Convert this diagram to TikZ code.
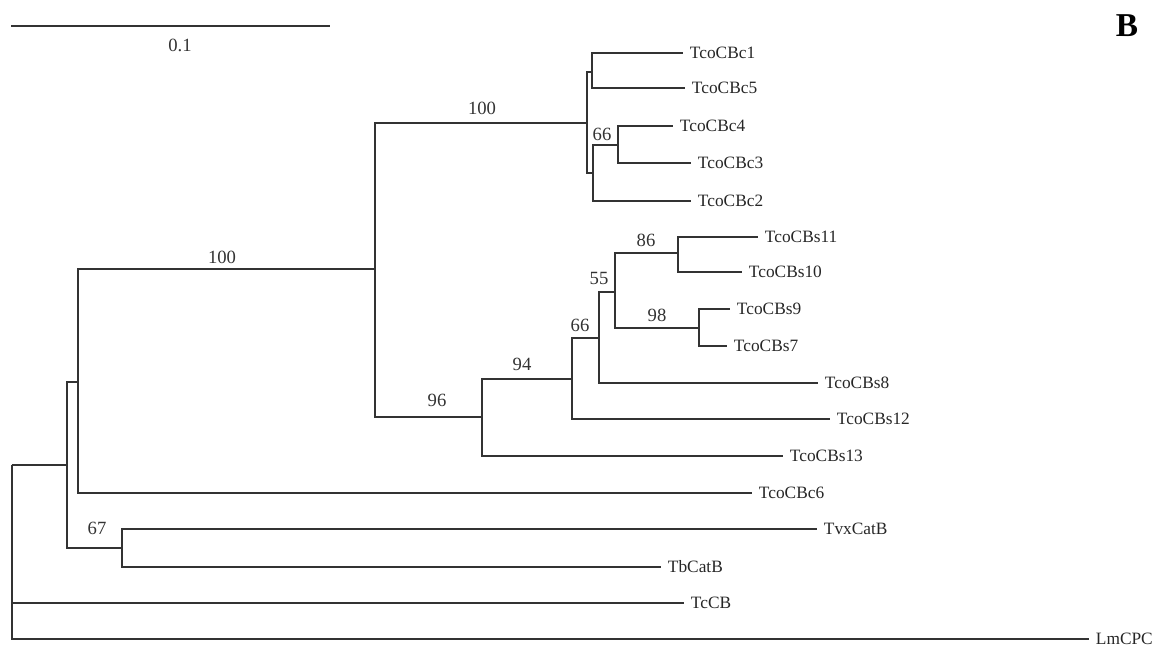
\documentclass[tikz,border=0pt]{standalone}
\usepackage{fontspec}
\setmainfont{Liberation Serif}
\begin{document}
\begin{tikzpicture}[x=0.75pt,y=-0.75pt,
  br/.style={draw=black!80,line width=1.4pt},
  leaf/.style={anchor=west,inner xsep=5pt,inner ysep=0pt,font=\fontsize{13}{15}\selectfont,text=black!85},
  boot/.style={font=\fontsize{14}{16}\selectfont,text=black!80,inner sep=0pt}]
\useasboundingbox (0,0) rectangle (1157,649);
% scale bar
\coordinate (sb1) at (11,26);
\coordinate (sb2) at (330,26);
\draw[br,line width=1.2pt] (sb1) -- (sb2);
\node[boot] (sbl) at (180,45) {0.1};
\node[font=\fontsize{25}{28}\selectfont\bfseries,inner sep=0pt] (panel) at (1127,26) {B};
% internal nodes
\coordinate (r) at (11.7,465);
\coordinate (A) at (66.7,465);
\coordinate (B1) at (121.7,547.7);
\coordinate (C) at (78.3,381.7);
\coordinate (D) at (375,269.3);
\coordinate (E) at (587,123);
\coordinate (F) at (592,71.7);
\coordinate (G) at (593,173.3);
\coordinate (H) at (618,145);
\coordinate (I) at (481.7,416.7);
\coordinate (J) at (571.7,379.3);
\coordinate (K) at (599,338.3);
\coordinate (L) at (615,291.7);
\coordinate (M) at (678.3,253.3);
\coordinate (N) at (699.3,328.3);
% leaves
\node[leaf] (c1) at (683,52.7) {TcoCBc1};
\node[leaf] (c5) at (685,88.3) {TcoCBc5};
\node[leaf] (c4) at (673,126) {TcoCBc4};
\node[leaf] (c3) at (691,162.7) {TcoCBc3};
\node[leaf] (c2) at (691,200.7) {TcoCBc2};
\node[leaf] (s11) at (758,236.7) {TcoCBs11};
\node[leaf] (s10) at (742,271.7) {TcoCBs10};
\node[leaf] (s9) at (730,309) {TcoCBs9};
\node[leaf] (s7) at (727,346) {TcoCBs7};
\node[leaf] (s8) at (818,383.3) {TcoCBs8};
\node[leaf] (s12) at (830,419.3) {TcoCBs12};
\node[leaf] (s13) at (783,456) {TcoCBs13};
\node[leaf] (c6) at (752,492.7) {TcoCBc6};
\node[leaf] (tvx) at (817,529.3) {TvxCatB};
\node[leaf] (tb) at (661,566.7) {TbCatB};
\node[leaf] (tc) at (684,603) {TcCB};
\node[leaf] (lm) at (1089,639) {LmCPC};
% branches
\draw[br] (r) |- (A);
\draw[br] (r) |- (tc.west);
\draw[br] (r) |- (lm.west);
\draw[br] (A) |- (C);
\draw[br] (A) |- (B1);
\draw[br] (B1) |- (tvx.west);
\draw[br] (B1) |- (tb.west);
\draw[br] (C) |- (D);
\draw[br] (C) |- (c6.west);
\draw[br] (D) |- (E);
\draw[br] (D) |- (I);
\draw[br] (E) |- (F);
\draw[br] (E) |- (G);
\draw[br] (F) |- (c1.west);
\draw[br] (F) |- (c5.west);
\draw[br] (G) |- (H);
\draw[br] (G) |- (c2.west);
\draw[br] (H) |- (c4.west);
\draw[br] (H) |- (c3.west);
\draw[br] (I) |- (J);
\draw[br] (I) |- (s13.west);
\draw[br] (J) |- (K);
\draw[br] (J) |- (s12.west);
\draw[br] (K) |- (L);
\draw[br] (K) |- (s8.west);
\draw[br] (L) |- (M);
\draw[br] (L) |- (N);
\draw[br] (M) |- (s11.west);
\draw[br] (M) |- (s10.west);
\draw[br] (N) |- (s9.west);
\draw[br] (N) |- (s7.west);
% bootstrap values
\node[boot] (bD) at (222,257) {100};
\node[boot] (bE) at (482,108) {100};
\node[boot] (bG) at (602,134) {66};
\node[boot] (bI) at (437,400) {96};
\node[boot] (bJ) at (522,364) {94};
\node[boot] (bK) at (580,325) {66};
\node[boot] (bL) at (599,278) {55};
\node[boot] (bM) at (646,240) {86};
\node[boot] (bN) at (657,315) {98};
\node[boot] (bB) at (97,528) {67};
\end{tikzpicture}
\end{document}
